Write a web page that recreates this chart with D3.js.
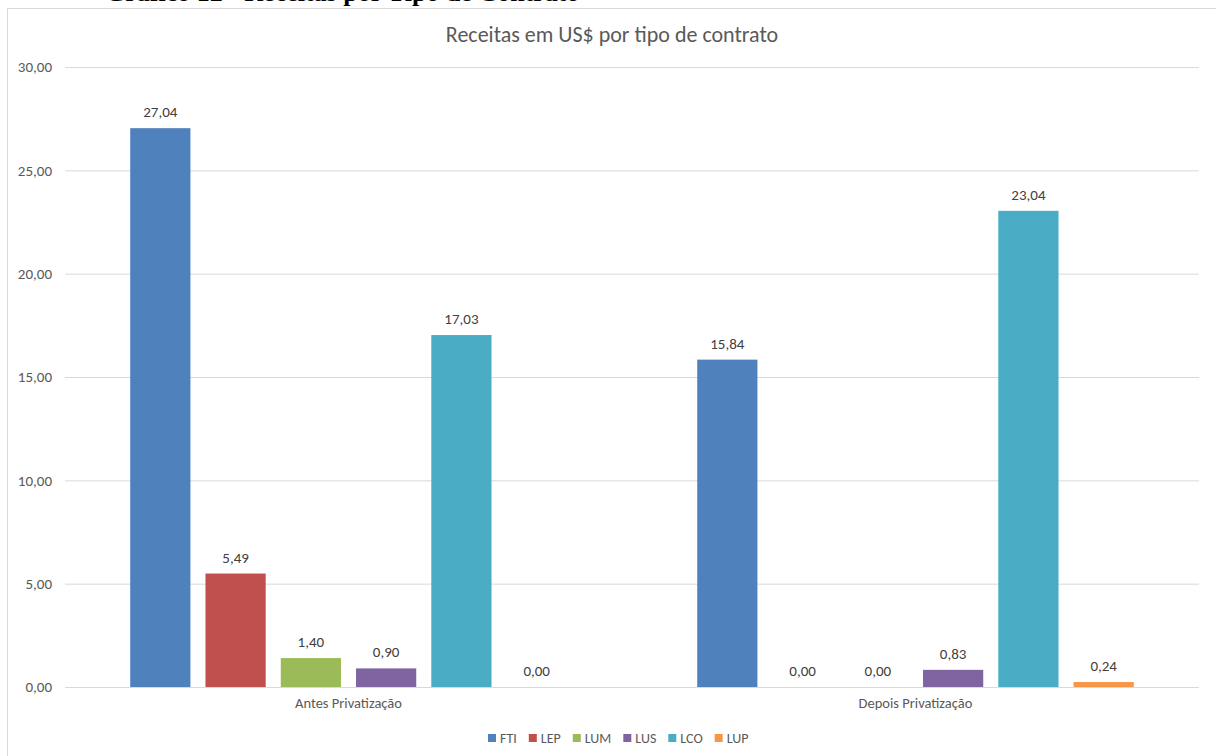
<!DOCTYPE html>
<html>
<head>
<meta charset="utf-8">
<script src="https://cdn.jsdelivr.net/npm/d3@7"></script>
<style>
  body { margin: 0; background: #fff; }
  svg { display: block; }
</style>
</head>
<body>
<div id="chart"></div>
<script>
const groups = ['Antes Privatização', 'Depois Privatização'];
const series = ['FTI', 'LEP', 'LUM', 'LUS', 'LCO', 'LUP'];
const antes = [27.04, 5.49, 1.40, 0.90, 17.03, 0.00];
const depois = [15.84, 0.00, 0.00, 0.83, 23.04, 0.24];
const yTicks = [0, 5, 10, 15, 20, 25, 30];
const palette = ['#4f81bd', '#c0504d', '#9bbb59', '#8064a2', '#4bacc6', '#f79646'];

const width = 1216, height = 756;
const margin = { top: 67, right: 17, bottom: 69, left: 65 };
const font = "Carlito, 'Open Sans', sans-serif";
const fmt = v => v.toFixed(2).replace('.', ',');

const rows = groups.map((g, i) => ({
  key: g,
  values: series.map((s, j) => ({ key: s, value: (i === 0 ? antes : depois)[j] }))
}));

const svg = d3.select('#chart').append('svg')
  .attr('width', width)
  .attr('height', height);

// legenda do documento, cortada no topo
svg.append('text')
  .attr('x', 105)
  .attr('y', 1)
  .attr('font-family', "'Liberation Serif', serif")
  .attr('font-weight', 'bold')
  .attr('font-size', 26)
  .attr('fill', '#000')
  .text('Gráfico 12 - Receitas por Tipo de Contrato');

// moldura
svg.append('path')
  .attr('d', `M7.5,${height} V8.5 H${width}`)
  .attr('fill', 'none')
  .attr('stroke', '#d9d9d9');

const x0 = d3.scaleBand()
  .domain(groups)
  .range([margin.left, width - margin.right])
  .paddingInner(0.23)
  .paddingOuter(0.115);

const x1 = d3.scaleBand()
  .domain(series)
  .range([0, x0.bandwidth()])
  .paddingInner(0.2);

const y = d3.scaleLinear()
  .domain([0, 30])
  .range([height - margin.bottom, margin.top]);

// grade
svg.append('g')
  .attr('transform', `translate(${margin.left},0)`)
  .call(d3.axisLeft(y).tickValues(yTicks).tickFormat(fmt).tickSize(-(width - margin.left - margin.right)).tickPadding(13))
  .call(g => g.select('.domain').remove())
  .call(g => g.selectAll('.tick line').attr('stroke', '#d9d9d9'))
  .call(g => g.selectAll('.tick text')
    .attr('font-family', font)
    .attr('font-size', 15)
    .attr('fill', '#595959'));

// categorias
svg.append('g')
  .attr('transform', `translate(0,${height - margin.bottom})`)
  .call(d3.axisBottom(x0).tickSize(0).tickPadding(11))
  .call(g => g.select('.domain').remove())
  .call(g => g.selectAll('.tick text')
    .attr('font-family', font)
    .attr('font-size', 14.5)
    .attr('fill', '#595959'));

// barras
const grp = svg.append('g')
  .selectAll('g')
  .data(rows)
  .join('g')
  .attr('transform', d => `translate(${x0(d.key)},0)`);

grp.selectAll('rect')
  .data(d => d.values)
  .join('rect')
  .attr('x', d => x1(d.key))
  .attr('y', d => y(d.value))
  .attr('width', x1.bandwidth())
  .attr('height', d => y(0) - y(d.value))
  .attr('fill', (d, i) => palette[i]);

grp.selectAll('text')
  .data(d => d.values)
  .join('text')
  .attr('x', d => x1(d.key) + x1.bandwidth() / 2)
  .attr('y', d => y(d.value) - 11)
  .attr('text-anchor', 'middle')
  .attr('font-family', font)
  .attr('font-size', 15)
  .attr('fill', '#404040')
  .text(d => fmt(d.value));

// titulo
svg.append('text')
  .attr('x', 612)
  .attr('y', 42)
  .attr('text-anchor', 'middle')
  .attr('font-family', font)
  .attr('font-size', 22)
  .attr('fill', '#595959')
  .text('Receitas em US$ por tipo de contrato');

// legenda
const legend = svg.append('g').attr('transform', 'translate(488,743)');
let lx = 0;
series.forEach((s, i) => {
  const item = legend.append('g').attr('transform', `translate(${lx},0)`);
  item.append('rect')
    .attr('x', 0).attr('y', -9)
    .attr('width', 8).attr('height', 8)
    .attr('fill', palette[i]);
  const t = item.append('text')
    .attr('x', 12).attr('y', 0)
    .attr('font-family', font)
    .attr('font-size', 14)
    .attr('fill', '#595959')
    .text(s);
  lx += 12 + t.node().getComputedTextLength() + 12;
});
</script>
</body>
</html>
